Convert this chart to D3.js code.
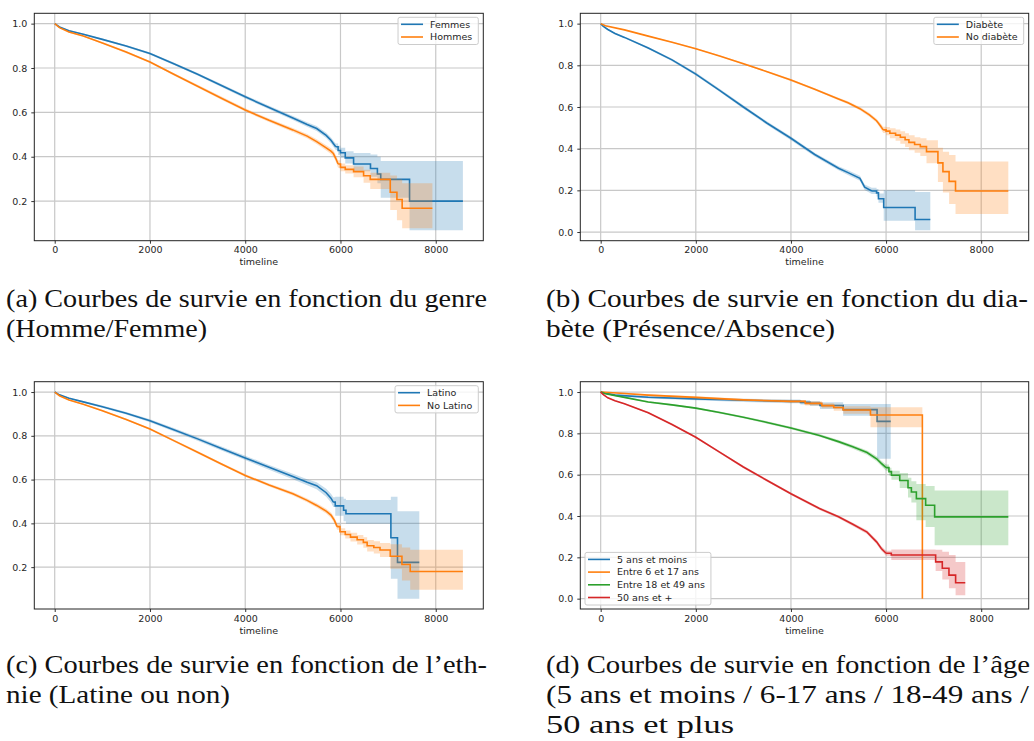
<!DOCTYPE html>
<html>
<head>
<meta charset="utf-8">
<script src="https://cdn.jsdelivr.net/npm/d3@7"></script>
<style>
  body { margin: 0; background: #fff; }
</style>
</head>
<body>
<div id="chart"></div>
<script>
// rows: [time, survival, ci lower, ci upper]

// (a) genre
const femmes = [
  [0, 1.000, 1.000, 1.000], [100, 0.985, 0.983, 0.987], [300, 0.968, 0.965, 0.971],
  [600, 0.952, 0.949, 0.955], [1000, 0.929, 0.925, 0.933], [1500, 0.899, 0.895, 0.904],
  [2000, 0.865, 0.860, 0.870], [2500, 0.819, 0.813, 0.825], [3000, 0.772, 0.766, 0.778],
  [3500, 0.721, 0.714, 0.728], [4000, 0.670, 0.663, 0.677], [4500, 0.622, 0.614, 0.630],
  [5000, 0.575, 0.566, 0.584], [5300, 0.545, 0.535, 0.555], [5500, 0.527, 0.516, 0.538],
  [5700, 0.496, 0.484, 0.508], [5800, 0.474, 0.461, 0.487], [5900, 0.445, 0.430, 0.460],
  [5950, 0.428, 0.408, 0.450], [6000, 0.418, 0.395, 0.440], [6100, 0.395, 0.370, 0.425],
  [6275, 0.367, 0.335, 0.417], [6630, 0.347, 0.310, 0.410], [6775, 0.322, 0.280, 0.400],
  [6845, 0.298, 0.215, 0.381], [7450, 0.200, 0.068, 0.381], [8570, 0.200, 0.068, 0.381]
];
const hommes = [
  [0, 1.000, 1.000, 1.000], [100, 0.982, 0.980, 0.984], [300, 0.962, 0.959, 0.965],
  [600, 0.944, 0.941, 0.947], [1000, 0.913, 0.909, 0.917], [1500, 0.872, 0.867, 0.877],
  [2000, 0.827, 0.822, 0.832], [2500, 0.772, 0.766, 0.778], [3000, 0.718, 0.712, 0.724],
  [3500, 0.664, 0.657, 0.671], [4000, 0.611, 0.604, 0.618], [4500, 0.564, 0.556, 0.572],
  [5000, 0.521, 0.512, 0.530], [5300, 0.493, 0.483, 0.503], [5500, 0.468, 0.457, 0.479],
  [5700, 0.440, 0.428, 0.452], [5800, 0.425, 0.412, 0.438], [5850, 0.415, 0.401, 0.429],
  [5900, 0.393, 0.378, 0.408], [5950, 0.367, 0.350, 0.384], [6000, 0.352, 0.334, 0.370],
  [6100, 0.343, 0.324, 0.362], [6275, 0.333, 0.308, 0.356], [6485, 0.314, 0.283, 0.341],
  [6625, 0.298, 0.255, 0.328], [7045, 0.240, 0.160, 0.315], [7185, 0.207, 0.114, 0.298],
  [7295, 0.168, 0.077, 0.280], [7930, 0.168, 0.077, 0.280]
];

// (b) diabete
const diabete = [
  [0, 1.000, 1.000, 1.000], [50, 0.988, 0.986, 0.990], [150, 0.972, 0.969, 0.975],
  [300, 0.953, 0.949, 0.957], [500, 0.934, 0.930, 0.938], [1000, 0.883, 0.878, 0.888],
  [1500, 0.826, 0.820, 0.832], [2000, 0.758, 0.751, 0.765], [2500, 0.680, 0.673, 0.687],
  [3000, 0.600, 0.592, 0.608], [3500, 0.522, 0.514, 0.530], [4000, 0.450, 0.441, 0.459],
  [4500, 0.372, 0.363, 0.381], [5000, 0.306, 0.296, 0.316], [5200, 0.285, 0.274, 0.296],
  [5450, 0.258, 0.246, 0.270], [5550, 0.215, 0.202, 0.228], [5700, 0.197, 0.182, 0.212],
  [5800, 0.188, 0.170, 0.206], [5840, 0.160, 0.140, 0.185], [5950, 0.118, 0.054, 0.200],
  [6610, 0.060, 0.008, 0.192], [6930, 0.060, 0.008, 0.192]
];
const noDiabete = [
  [0, 1.000, 1.000, 1.000], [100, 0.990, 0.989, 0.991], [500, 0.970, 0.968, 0.972],
  [1000, 0.940, 0.938, 0.942], [1500, 0.911, 0.908, 0.914], [2000, 0.880, 0.877, 0.883],
  [2500, 0.845, 0.842, 0.848], [3000, 0.808, 0.804, 0.812], [3500, 0.769, 0.765, 0.773],
  [4000, 0.729, 0.724, 0.734], [4500, 0.685, 0.680, 0.690], [5000, 0.638, 0.632, 0.644],
  [5200, 0.620, 0.613, 0.627], [5450, 0.592, 0.584, 0.600], [5650, 0.562, 0.553, 0.571],
  [5800, 0.534, 0.524, 0.544], [5880, 0.510, 0.498, 0.522], [5940, 0.490, 0.475, 0.505],
  [6000, 0.484, 0.464, 0.504], [6080, 0.474, 0.450, 0.498], [6200, 0.465, 0.438, 0.492],
  [6300, 0.455, 0.424, 0.484], [6400, 0.443, 0.408, 0.474], [6480, 0.430, 0.392, 0.464],
  [6600, 0.420, 0.380, 0.455], [6720, 0.410, 0.365, 0.450], [6850, 0.386, 0.330, 0.440],
  [7090, 0.332, 0.240, 0.405], [7195, 0.290, 0.190, 0.385], [7325, 0.243, 0.135, 0.370],
  [7460, 0.197, 0.086, 0.338], [8570, 0.197, 0.086, 0.338]
];

// (c) ethnie
const latino = [
  [0, 1.000, 1.000, 1.000], [100, 0.987, 0.985, 0.989], [300, 0.972, 0.969, 0.975],
  [600, 0.955, 0.951, 0.959], [1000, 0.933, 0.928, 0.938], [1500, 0.903, 0.897, 0.909],
  [2000, 0.869, 0.862, 0.876], [2500, 0.828, 0.820, 0.836], [3000, 0.786, 0.778, 0.794],
  [3500, 0.742, 0.733, 0.751], [4000, 0.699, 0.689, 0.709], [4500, 0.656, 0.645, 0.667],
  [5000, 0.614, 0.601, 0.627], [5300, 0.588, 0.574, 0.602], [5500, 0.572, 0.556, 0.588],
  [5700, 0.540, 0.522, 0.558], [5800, 0.515, 0.495, 0.535], [5850, 0.497, 0.475, 0.519],
  [5890, 0.480, 0.435, 0.522], [6065, 0.460, 0.410, 0.512], [6115, 0.444, 0.398, 0.507],
  [7058, 0.334, 0.147, 0.522], [7197, 0.222, 0.056, 0.455], [7655, 0.222, 0.056, 0.455]
];
const noLatino = [
  [0, 1.000, 1.000, 1.000], [100, 0.983, 0.981, 0.985], [300, 0.964, 0.961, 0.967],
  [600, 0.944, 0.941, 0.947], [1000, 0.915, 0.911, 0.919], [1500, 0.875, 0.871, 0.879],
  [2000, 0.831, 0.826, 0.836], [2500, 0.778, 0.773, 0.783], [3000, 0.725, 0.719, 0.731],
  [3500, 0.671, 0.665, 0.677], [4000, 0.619, 0.613, 0.625], [4500, 0.575, 0.568, 0.582],
  [5000, 0.535, 0.527, 0.543], [5300, 0.505, 0.496, 0.514], [5500, 0.482, 0.472, 0.492],
  [5700, 0.456, 0.445, 0.467], [5800, 0.438, 0.426, 0.450], [5870, 0.415, 0.402, 0.428],
  [5930, 0.385, 0.371, 0.399], [5990, 0.362, 0.346, 0.378], [6100, 0.349, 0.331, 0.367],
  [6210, 0.337, 0.317, 0.357], [6350, 0.325, 0.303, 0.347], [6480, 0.313, 0.289, 0.337],
  [6560, 0.298, 0.272, 0.324], [6700, 0.290, 0.262, 0.318], [6830, 0.278, 0.246, 0.310],
  [7045, 0.250, 0.193, 0.305], [7290, 0.212, 0.139, 0.290], [7464, 0.180, 0.097, 0.279],
  [8570, 0.180, 0.097, 0.279]
];

// (d) age
const age0to5 = [
  [0, 1.000, 1.000, 1.000], [300, 0.985, 0.980, 0.990], [1000, 0.975, 0.969, 0.981],
  [2000, 0.967, 0.960, 0.974], [3000, 0.960, 0.952, 0.968], [4000, 0.955, 0.946, 0.964],
  [4200, 0.950, 0.940, 0.960], [4400, 0.945, 0.933, 0.957], [4610, 0.935, 0.918, 0.950],
  [5098, 0.915, 0.885, 0.942], [5811, 0.858, 0.677, 0.942], [6098, 0.858, 0.677, 0.942]
];
const age6to17 = [
  [0, 1.000, 1.000, 1.000], [500, 0.993, 0.990, 0.996], [1000, 0.985, 0.981, 0.989],
  [2000, 0.974, 0.969, 0.979], [3000, 0.962, 0.956, 0.968], [4000, 0.955, 0.948, 0.962],
  [4300, 0.945, 0.935, 0.955], [4650, 0.934, 0.922, 0.946], [4900, 0.925, 0.910, 0.940],
  [5100, 0.913, 0.895, 0.931], [5672, 0.889, 0.829, 0.926], [6763, 0.000, null, null]
];
const age18to49 = [
  [0, 1.000, 1.000, 1.000], [100, 0.992, 0.990, 0.994], [500, 0.974, 0.971, 0.977],
  [1000, 0.952, 0.948, 0.956], [1500, 0.938, 0.934, 0.942], [2000, 0.922, 0.918, 0.926],
  [2500, 0.901, 0.896, 0.906], [3000, 0.878, 0.873, 0.883], [3500, 0.853, 0.847, 0.859],
  [4000, 0.826, 0.820, 0.832], [4600, 0.790, 0.783, 0.797], [5000, 0.760, 0.752, 0.768],
  [5300, 0.735, 0.726, 0.744], [5600, 0.707, 0.697, 0.717], [5800, 0.677, 0.665, 0.689],
  [5900, 0.655, 0.642, 0.668], [6000, 0.634, 0.619, 0.649], [6060, 0.615, 0.596, 0.634],
  [6113, 0.597, 0.575, 0.619], [6287, 0.572, 0.535, 0.608], [6461, 0.537, 0.490, 0.585],
  [6532, 0.516, 0.465, 0.568], [6637, 0.484, 0.380, 0.555], [6832, 0.452, 0.347, 0.545],
  [7021, 0.396, 0.259, 0.524], [8570, 0.396, 0.259, 0.524]
];
const age50plus = [
  [0, 1.000, 1.000, 1.000], [50, 0.988, 0.986, 0.990], [150, 0.972, 0.969, 0.975],
  [300, 0.958, 0.955, 0.961], [500, 0.943, 0.940, 0.946], [1000, 0.900, 0.896, 0.904],
  [1500, 0.843, 0.838, 0.848], [2000, 0.781, 0.776, 0.786], [2500, 0.709, 0.704, 0.714],
  [3000, 0.637, 0.631, 0.643], [3500, 0.572, 0.566, 0.578], [4000, 0.508, 0.502, 0.514],
  [4600, 0.436, 0.429, 0.443], [5000, 0.396, 0.389, 0.403], [5300, 0.360, 0.352, 0.368],
  [5600, 0.322, 0.313, 0.331], [5800, 0.275, 0.265, 0.285], [5900, 0.243, 0.232, 0.254],
  [6000, 0.220, 0.208, 0.232], [6110, 0.211, 0.187, 0.238], [7042, 0.178, 0.134, 0.237],
  [7182, 0.147, 0.093, 0.227], [7322, 0.114, 0.050, 0.211], [7462, 0.077, 0.017, 0.178],
  [7665, 0.077, 0.017, 0.178]
];

// time after which each curve is drawn as visible steps
const stepFromA = [5900, 5950];
const stepFromB = [5700, 5940];
const stepFromC = [5850, 5930];
const stepFromD = [4000, 4000, 6000, 6000];

const labelsA = ["Femmes", "Hommes"];
const labelsB = ["Diabète", "No diabète"];
const labelsC = ["Latino", "No Latino"];
const labelsD = ["5 ans et moins", "Entre 6 et 17 ans", "Entre 18 et 49 ans", "50 ans et +"];

const xTicks = [0, 2000, 4000, 6000, 8000];
const yTicksAC = [0.2, 0.4, 0.6, 0.8, 1.0];
const yTicksBD = [0.0, 0.2, 0.4, 0.6, 0.8, 1.0];

const captionA = ["(a) Courbes de survie en fonction du genre", "(Homme/Femme)"];
const captionB = ["(b) Courbes de survie en fonction du dia-", "bète (Présence/Absence)"];
const captionC = ["(c) Courbes de survie en fonction de l’eth-", "nie (Latine ou non)"];
const captionD = ["(d) Courbes de survie en fonction de l’âge",
                  "(5 ans et moins / 6-17 ans / 18-49 ans /", "50 ans et plus"];

const colors = ["#1f77b4", "#ff7f0e", "#2ca02c", "#d62728"];

const W = 1034, H = 741;
const svg = d3.select("#chart").append("svg")
  .attr("width", W).attr("height", H)
  .style("font-family", "'DejaVu Sans', sans-serif");

const panels = [
  { id: "a", rows: [femmes, hommes], stepFrom: stepFromA, labels: labelsA, yTicks: yTicksAC,
    box: [34.3, 13.3, 483.3, 240.7], legend: "ur",
    caption: captionA, capX: 6, capY: 306.7, capW: [481, 201] },
  { id: "b", rows: [diabete, noDiabete], stepFrom: stepFromB, labels: labelsB, yTicks: yTicksBD,
    box: [580.3, 13.3, 1028.7, 240.7], legend: "ur",
    caption: captionB, capX: 546, capY: 306.7, capW: [482, 289] },
  { id: "c", rows: [latino, noLatino], stepFrom: stepFromC, labels: labelsC, yTicks: yTicksAC,
    box: [34.3, 381.7, 483.3, 609], legend: "ur",
    caption: captionC, capX: 6, capY: 673.3, capW: [481, 224] },
  { id: "d", rows: [age0to5, age6to17, age18to49, age50plus], stepFrom: stepFromD, labels: labelsD,
    yTicks: yTicksBD, box: [580.3, 381.7, 1028.7, 609], legend: "ll",
    caption: captionD, capX: 546, capY: 673.3, capW: [484, 483, 188] }
];

panels.forEach(p => drawPanel(p));

function drawPanel(p) {
  const [x0, y0, x1, y1] = p.box;
  const g = svg.append("g");

  // --- scales with matplotlib-like 5% margins ---
  const allT = p.rows.flat().map(r => r[0]);
  const allV = p.rows.flat().flatMap(r => [r[1], r[2], r[3]]).filter(v => v != null);
  const [tMin, tMax] = d3.extent(allT);
  const [vMin, vMax] = d3.extent(allV);
  const mx = (tMax - tMin) * 0.05, my = (vMax - vMin) * 0.05;
  const scX = d3.scaleLinear().domain([tMin - mx, tMax + mx]).range([x0, x1]);
  const scY = d3.scaleLinear().domain([vMin - my, vMax + my]).range([y1, y0]);

  // --- grid ---
  g.append("g").selectAll("line").data(xTicks).enter().append("line")
    .attr("x1", d => scX(d)).attr("x2", d => scX(d))
    .attr("y1", y0).attr("y2", y1)
    .attr("stroke", "#c8c8c8").attr("stroke-width", 1.2);
  g.append("g").selectAll("line").data(p.yTicks).enter().append("line")
    .attr("x1", x0).attr("x2", x1)
    .attr("y1", d => scY(d)).attr("y2", d => scY(d))
    .attr("stroke", "#c8c8c8").attr("stroke-width", 1.2);

  // --- curves ---
  const clipId = "clip-" + p.id;
  g.append("clipPath").attr("id", clipId).append("rect")
    .attr("x", x0).attr("y", y0).attr("width", x1 - x0).attr("height", y1 - y0);
  const plot = g.append("g").attr("clip-path", `url(#${clipId})`);

  const lineLin = d3.line().x(r => scX(r[0])).y(r => scY(r[1]));
  const lineStep = d3.line().curve(d3.curveStepAfter).x(r => scX(r[0])).y(r => scY(r[1]));
  const areaLin = d3.area().x(r => scX(r[0])).y0(r => scY(r[2])).y1(r => scY(r[3]));
  const areaStep = d3.area().curve(d3.curveStepAfter)
    .x(r => scX(r[0])).y0(r => scY(r[2])).y1(r => scY(r[3]));

  p.rows.forEach((rows, i) => {
    const sf = p.stepFrom[i];
    // a null interval (survival reaches 0) keeps the previous interval up to that time
    const band = rows.map((r, k) => r[2] == null ? [r[0], r[1], rows[k - 1][2], rows[k - 1][3]] : r);
    const smooth = rows.filter(r => r[0] <= sf);
    const steps = rows.filter(r => r[0] >= sf);
    const bSmooth = band.filter(r => r[0] <= sf);
    const bSteps = band.filter(r => r[0] >= sf);

    plot.append("path")
      .attr("d", areaLin(bSmooth) + areaStep(bSteps))
      .attr("fill", colors[i]).attr("fill-opacity", 0.25).attr("stroke", "none");
    plot.append("path")
      .attr("d", lineLin(smooth) + lineStep(steps))
      .attr("fill", "none").attr("stroke", colors[i])
      .attr("stroke-width", 1.6).attr("stroke-linejoin", "miter");
  });

  // --- axes ---
  const axX = g.append("g").attr("transform", `translate(0,${y1})`)
    .call(d3.axisBottom(scX).tickValues(xTicks).tickFormat(d3.format("d"))
      .tickSizeInner(3).tickSizeOuter(0).tickPadding(3));
  const axY = g.append("g").attr("transform", `translate(${x0},0)`)
    .call(d3.axisLeft(scY).tickValues(p.yTicks).tickFormat(d3.format(".1f"))
      .tickSizeInner(3).tickSizeOuter(0).tickPadding(4));
  [axX, axY].forEach(ax => {
    ax.select(".domain").remove();
    ax.selectAll("line").attr("stroke", "#333");
    ax.selectAll("text").attr("fill", "#262626")
      .style("font-family", "'DejaVu Sans', sans-serif").style("font-size", "9.5px");
  });

  g.append("text")
    .attr("x", (x0 + x1) / 2).attr("y", y1 + 24.5)
    .attr("text-anchor", "middle")
    .attr("fill", "#262626").style("font-size", "9.5px")
    .text("timeline");

  // --- frame ---
  g.append("rect")
    .attr("x", x0).attr("y", y0).attr("width", x1 - x0).attr("height", y1 - y0)
    .attr("fill", "none").attr("stroke", "#222").attr("stroke-width", 1);

  // --- legend ---
  const lg = g.append("g");
  const rowH = 12.7, padT = 7, padB = 7.5;
  const boxH = padT + (p.labels.length - 1) * rowH + padB;
  const frame = lg.append("rect");
  const texts = lg.selectAll("text").data(p.labels).enter().append("text")
    .attr("fill", "#262626").style("font-size", "9.5px")
    .attr("dy", "0.35em")
    .text(d => d);
  let maxW = 0;
  texts.each(function () { maxW = Math.max(maxW, this.getComputedTextLength()); });
  const boxW = 3 + 22 + 7 + maxW + 6;
  const bx = p.legend === "ur" ? x1 - 5 - boxW : x0 + 4.7;
  const by = p.legend === "ur" ? y0 + 4 : y1 - 4 - boxH;
  frame.attr("x", bx).attr("y", by).attr("width", boxW).attr("height", boxH)
    .attr("rx", 2).attr("fill", "#fff").attr("fill-opacity", 0.8)
    .attr("stroke", "#cccccc").attr("stroke-width", 1);
  texts.attr("x", bx + 32).attr("y", (d, i) => by + padT + i * rowH);
  lg.selectAll("line").data(p.labels).enter().append("line")
    .attr("x1", bx + 3).attr("x2", bx + 25)
    .attr("y1", (d, i) => by + padT + i * rowH).attr("y2", (d, i) => by + padT + i * rowH)
    .attr("stroke", (d, i) => colors[i]).attr("stroke-width", 1.6);

  // --- caption ---
  svg.append("g").selectAll("text").data(p.caption).enter().append("text")
    .attr("x", p.capX).attr("y", (d, i) => p.capY + i * 30)
    .attr("textLength", (d, i) => p.capW[i])
    .attr("lengthAdjust", "spacingAndGlyphs")
    .attr("fill", "#111")
    .style("font-family", "'Liberation Serif', serif").style("font-size", "26px")
    .text(d => d);
}
</script>
</body>
</html>
